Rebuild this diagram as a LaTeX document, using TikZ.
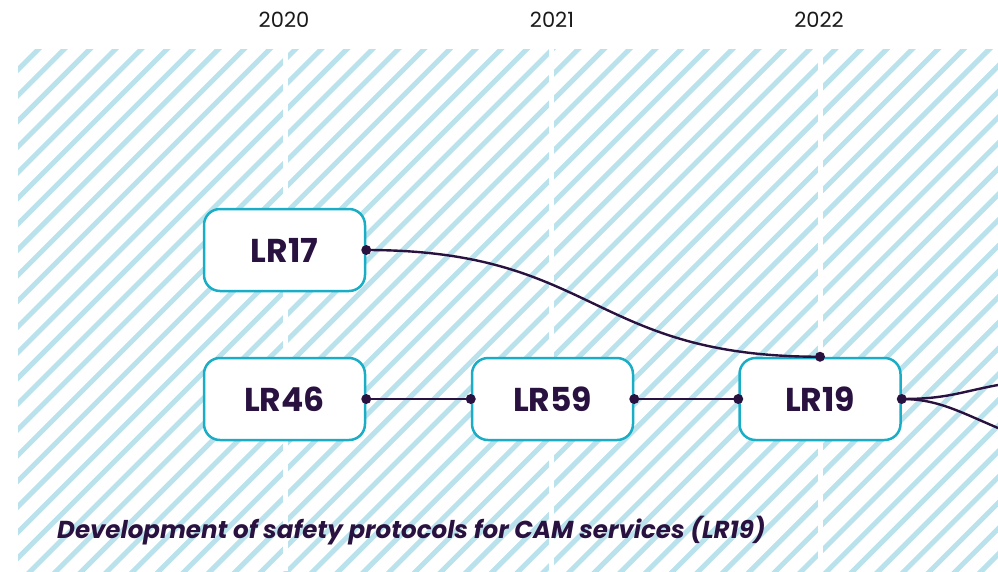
\documentclass[tikz,border=0pt]{standalone}
\usepackage{fontspec}
\setmainfont{Poppins}
\definecolor{hatchblue}{HTML}{B9E2EC}
\definecolor{tealline}{HTML}{1AAEC6}
\definecolor{darkpurple}{HTML}{2A1240}
\definecolor{yeartext}{HTML}{1A1A1A}
\tikzset{
  lrbox/.style={draw=tealline, line width=2.5pt, fill=white, rounded corners=16pt,
    minimum width=161pt, minimum height=82pt, inner sep=0pt,
    text=darkpurple, font=\fontsize{33}{38}\selectfont\bfseries},
  yearlabel/.style={text=yeartext, font=\fontsize{21}{25}\selectfont, inner sep=0pt},
  conn/.style={draw=darkpurple, line width=2.4pt},
  dot/.style={fill=darkpurple},
  gapline/.style={draw=white, line width=5pt},
  hatchline/.style={draw=hatchblue, line width=5pt}
}
\begin{document}
\begin{tikzpicture}[x=1pt,y=-1pt]
\useasboundingbox (0,0) rectangle (998,571);
% hatched background
\begin{scope}
  \clip (18,49) rectangle (998,571);
  \foreach \k in {-6,...,58} {
    \draw[hatchline] ({164.7+\k*25.7-700},700) -- ({164.7+\k*25.7},0);
  }
\end{scope}
\draw[gapline] (285.5,49) -- (285.5,571);
\draw[gapline] (551.5,49) -- (551.5,571);
\draw[gapline] (820,49) -- (820,571);
% year labels
\node[yearlabel] (y2020) at (284,20) {2020};
\node[yearlabel] (y2021) at (552,20) {2021};
\node[yearlabel] (y2022) at (819,20) {2022};
% nodes
\node[lrbox] (lr17) at (284.5,250) {LR17};
\node[lrbox] (lr46) at (284.5,399) {LR46};
\node[lrbox] (lr59) at (552.5,399) {LR59};
\node[lrbox] (lr19) at (820,399) {LR19};
\coordinate (out1) at (998,385);
\coordinate (out2) at (998,428);
% connectors
\begin{scope}
  \clip (0,0) rectangle (998,571);
  \draw[conn] (lr17.east) .. controls +(230,0) and +(-230,0) .. (lr19.north);
  \draw[conn] (lr46.east) -- (lr59.west);
  \draw[conn] (lr59.east) -- (lr19.west);
  \draw[conn] (lr19.east) .. controls +(45,0) and +(-38,7) .. (out1);
  \draw[conn] (lr19.east) .. controls +(35,0) and +(-40,-17) .. (out2);
\end{scope}
% dots
\foreach \p in {lr17.east, lr19.north, lr46.east, lr59.west, lr59.east, lr19.west, lr19.east} {
  \fill[dot] (\p) circle (5pt);
}
% caption
\node[anchor=base west, inner sep=0pt, text=darkpurple,
  font=\fontsize{24.5}{28}\selectfont\bfseries\itshape] (caption) at (57,538)
  {Development of safety protocols for CAM services (LR19)};
\end{tikzpicture}
\end{document}
